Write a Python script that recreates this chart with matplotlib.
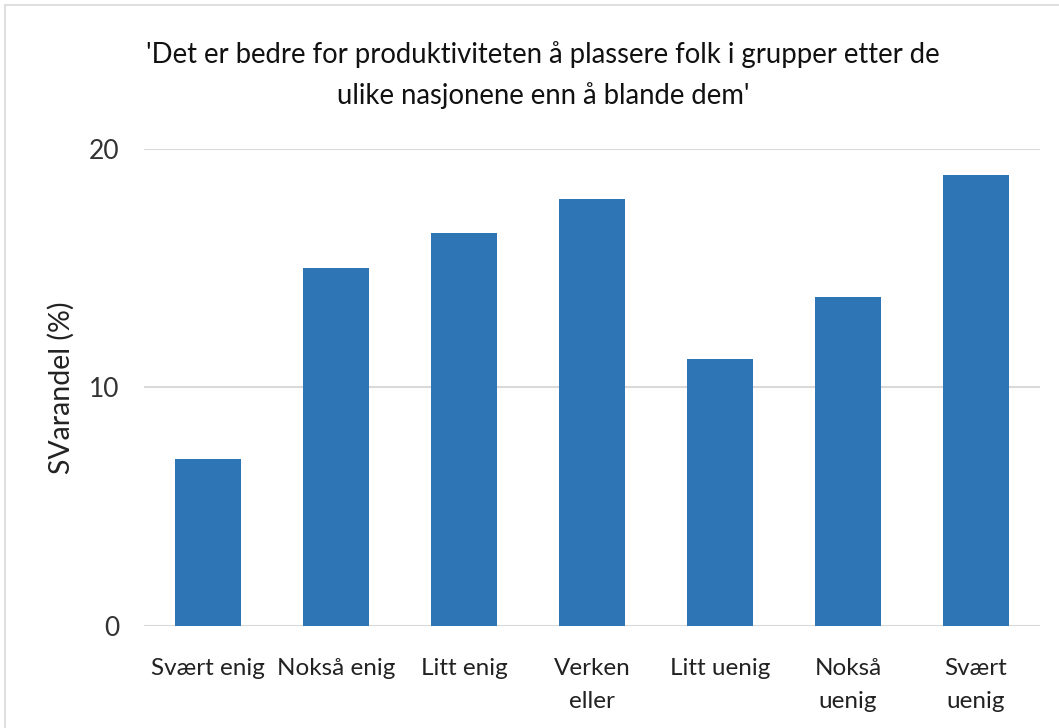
import matplotlib
matplotlib.use("Agg")
import matplotlib.pyplot as plt
from matplotlib.patches import Rectangle

categories = ["Svært enig", "Nokså enig", "Litt enig", "Verken\neller",
              "Litt uenig", "Nokså\nuenig", "Svært\nuenig"]
values = [7.0, 15.0, 16.5, 17.9, 11.2, 13.8, 18.9]
yticks = [0, 10, 20]
title = "'Det er bedre for produktiviteten å plassere folk i grupper etter de\nulike nasjonene enn å blande dem'"
ylabel = "SVarandel (%)"

plt.rcParams['font.family'] = ['Lato', 'DejaVu Sans']

fig = plt.figure(figsize=(10.59, 7.28), dpi=100)
fig.patches.append(Rectangle((0.005, -0.01), 1.0, 1.0 - 0.007 + 0.01, transform=fig.transFigure,
                             fill=False, edgecolor="#d9d9d9", linewidth=1.2))
ax = fig.add_axes([0.136, 0.1405, 0.846, 0.6545])

x = range(len(categories))
ax.bar(x, values, width=0.51, color="#2E75B6", zorder=3)
ax.set_ylim(0, 20)
ax.set_xlim(-0.5, len(categories) - 0.5)
ax.set_yticks(yticks)
ax.set_yticklabels([str(t) for t in yticks], fontsize=19, color="#333333")
ax.set_xticks(list(x))
ax.set_xticklabels(categories, fontsize=17.5, color="#222222", linespacing=1.7)
ax.tick_params(axis='both', length=0)
ax.tick_params(axis='x', pad=23)
ax.tick_params(axis='y', pad=18)
ax.grid(axis='y', color="#d9d9d9", linewidth=1.5, zorder=0)
for s in ax.spines.values():
    s.set_visible(False)
ax.set_ylabel(ylabel, fontsize=20.5, color="#222222", labelpad=10)
fig.text(0.513, 0.897, title, ha='center', va='center', fontsize=19.8,
         color="#111111", linespacing=1.6)

fig.savefig("out.png", dpi=100)
